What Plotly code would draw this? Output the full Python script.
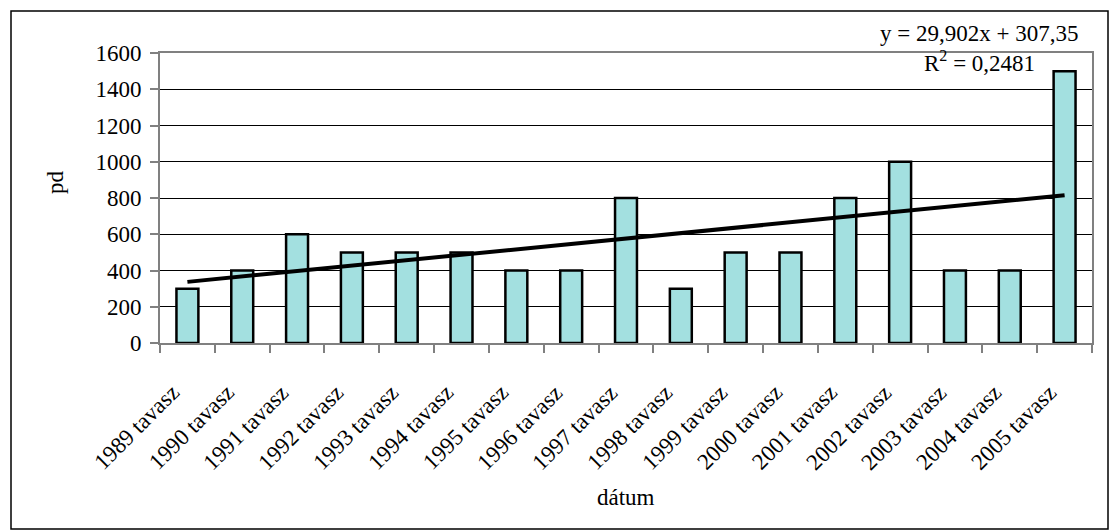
import plotly.graph_objects as go

# Spring values per year
categories = ["1989 tavasz", "1990 tavasz", "1991 tavasz", "1992 tavasz", "1993 tavasz",
              "1994 tavasz", "1995 tavasz", "1996 tavasz", "1997 tavasz", "1998 tavasz",
              "1999 tavasz", "2000 tavasz", "2001 tavasz", "2002 tavasz", "2003 tavasz",
              "2004 tavasz", "2005 tavasz"]
values = [300, 400, 600, 500, 500, 500, 400, 400, 800, 300, 500, 500, 800, 1000, 400, 400, 1500]

# Linear trend coefficients (x = 1..n)
slope = 29.902
intercept = 307.35
trend = [slope * (i + 1) + intercept for i in range(len(categories))]

W, H = 1110, 531
L, R, T, B = 160, 18, 53, 188
pw, ph = W - L - R, H - T - B


def px(x):
    return (x - L) / pw


def py(y):
    return (H - B - y) / ph


FONT = "Liberation Serif"
FS = 23

fig = go.Figure()
fig.add_trace(go.Bar(
    x=categories, y=values, width=0.4,
    marker=dict(color="#A3E0E0", line=dict(color="black", width=2.5)),
    showlegend=False,
))
fig.add_trace(go.Scatter(
    x=categories, y=trend, mode="lines",
    line=dict(color="black", width=4), showlegend=False,
))

# Slanted category labels, placed below the axis (x given as category index)
label_anns = [
    dict(text=c, xref="x", yref="paper", x=i, y=py(377), xshift=-1,
         xanchor="right", yanchor="top", textangle=-45, showarrow=False,
         font=dict(family=FONT, size=FS, color="black"))
    for i, c in enumerate(categories)
]

fig.update_layout(
    width=W, height=H,
    margin=dict(l=L, r=R, t=T, b=B),
    paper_bgcolor="white", plot_bgcolor="white",
    font=dict(family=FONT, size=FS, color="black"),
    xaxis=dict(
        type="category", tickson="boundaries", showticklabels=False,
        range=[-0.5, len(categories) - 0.5],
        ticks="outside", ticklen=8, tickcolor="#808080", tickwidth=1.5,
        showline=True, linecolor="#808080", linewidth=2, mirror=True,
        showgrid=False,
    ),
    yaxis=dict(
        range=[0, 1600], dtick=200,
        ticks="outside", ticklen=8, tickcolor="#808080", tickwidth=1.5,
        ticklabelstandoff=4,
        showline=True, linecolor="#808080", linewidth=2, mirror=True,
        showgrid=True, gridcolor="black", gridwidth=1,
        zeroline=False, tickfont=dict(family=FONT, size=FS, color="black"),
    ),
    shapes=[dict(
        type="rect", xref="paper", yref="paper",
        x0=px(11), x1=px(1108), y0=py(529), y1=py(11),
        line=dict(color="black", width=1.5), fillcolor="rgba(0,0,0,0)", layer="below",
    )],
    annotations=label_anns + [
        dict(text="pd", xref="paper", yref="paper", x=px(55), y=py(182),
             xanchor="center", yanchor="middle",
             textangle=-90, showarrow=False, font=dict(family=FONT, size=FS)),
        dict(text="dátum", xref="paper", yref="paper", x=px(626), y=py(497),
             xanchor="center", yanchor="middle",
             showarrow=False, font=dict(family=FONT, size=FS)),
        dict(text="y = 29,902x + 307,35", xref="paper", yref="paper",
             x=px(979), y=py(33), xanchor="center", yanchor="middle",
             showarrow=False, font=dict(family=FONT, size=FS)),
        dict(text="R<sup>2</sup> = 0,2481", xref="paper", yref="paper",
             x=px(979), y=py(62), xanchor="center", yanchor="middle",
             showarrow=False, font=dict(family=FONT, size=FS)),
    ],
)

fig.write_html("out.html")
